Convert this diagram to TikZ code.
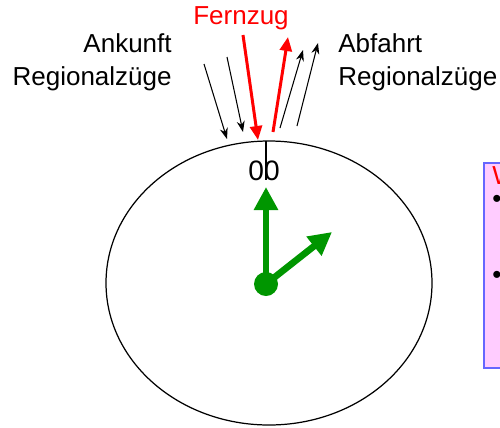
\documentclass[tikz,border=0pt]{standalone}
\usepackage{fontspec}
\setmainfont{Liberation Sans}
\usetikzlibrary{arrows.meta}

\definecolor{handgreen}{RGB}{0,150,0}
\definecolor{boxblue}{RGB}{102,102,255}
\definecolor{boxpink}{RGB}{255,204,255}

\tikzset{
  label/.style={font=\fontsize{14.8}{18.7}\selectfont,inner sep=0pt},
  bullet/.style={label,anchor=west,text height=1.2ex,text depth=0pt},
  train/.style={line width=0.6pt,-{Stealth[length=2.2mm,width=1.6mm]}},
  fast/.style={red,line width=1.7pt,-{Triangle[length=2.8mm,width=2.4mm]}},
  hand/.style={handgreen,line width=3.8pt,-{Triangle[length=4.6mm,width=4.6mm]}}
}

\begin{document}
\begin{tikzpicture}[x=0.02cm,y=-0.02cm]
        \useasboundingbox (0,0) rectangle (500,427);
        \clip (0,0) rectangle (500,427);

        % clock face
        \draw[line width=0.7pt] (269,283) ellipse[x radius=163,y radius=142];
        \draw[line width=0.6pt] (266,141) -- (266,180);
        \node[label,font=\fontsize{16}{18}\selectfont] (zero) at (264,171) {00};

        \coordinate (mid) at (266,284);
        \draw[hand] (mid) -- (266,187);
        \draw[hand] (mid) -- (332,232);
        \fill[handgreen] (mid) circle[radius=12];

        % trains
        \draw[train] (204,64) -- (227,139);
        \draw[train] (227,57) -- (243,132);
        \draw[fast] (243,35) -- (258,140);
        \draw[fast] (273,132) -- (288,37);
        \draw[train] (280,128) -- (303,50);
        \draw[train] (297,126) -- (318,43);

        \node[label,red,anchor=north] (fernzug) at (241,6) {Fernzug};
        \node[label,anchor=north east,align=right] (ankunft) at (172,33) {Ankunft\\Regionalzüge};
        \node[label,anchor=north west,align=left] (abfahrt) at (338,33) {Abfahrt\\Regionalzüge};

        % side box
        \draw[boxblue,fill=boxpink,line width=1.2pt] (484,163) rectangle (540,368);
        \node[label,red,anchor=north west,text depth=0pt] (wtitle) at (492,166) {W};
        \node[bullet] (dot1) at (492,202) {\textbullet};
        \node[bullet] (dot2) at (492,278) {\textbullet};
\end{tikzpicture}
\end{document}
